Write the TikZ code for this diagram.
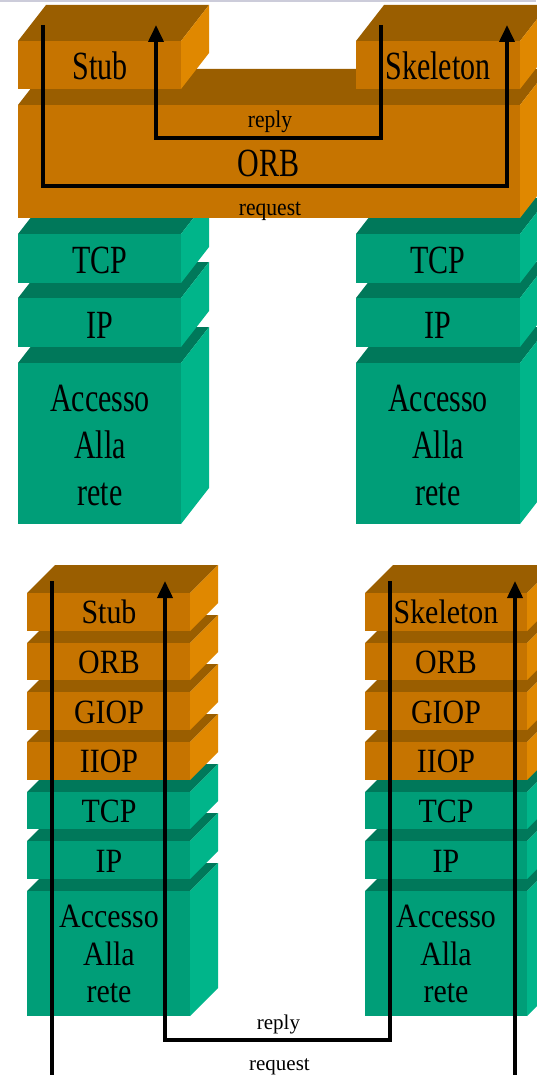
\documentclass[tikz,border=0pt]{standalone}
\usepackage{fontspec}
\setmainfont{Liberation Serif}
\newfontfamily\bigtopf[FakeStretch=0.75]{Liberation Serif}
\newfontfamily\smalltopf[FakeStretch=0.9]{Liberation Serif}
\newfontfamily\bigbotf[FakeStretch=0.88]{Liberation Serif}
\usetikzlibrary{arrows.meta}
\definecolor{ofront}{RGB}{198,116,0}
\definecolor{otop}{RGB}{154,94,0}
\definecolor{oside}{RGB}{224,136,0}
\definecolor{gfront}{RGB}{0,158,120}
\definecolor{gtop}{RGB}{0,120,90}
\definecolor{gside}{RGB}{0,181,138}
\definecolor{topbar}{RGB}{204,204,218}
% #1 x0, #2 y0 (front top), #3 x1, #4 y1 (front bottom), #5 dx, #6 dy, #7 colour prefix
\newcommand\slab[7]{%
  \fill[#7top] (#1,#2) -- (#1+#5,#2-#6) -- (#3+#5,#2-#6) -- (#3,#2) -- cycle;
  \fill[#7side] (#3,#2) -- (#3+#5,#2-#6) -- (#3+#5,#4-#6) -- (#3,#4) -- cycle;
  \fill[#7front] (#1,#2) rectangle (#3,#4);
}
\tikzset{
  bigtop/.style={font=\bigtopf\fontsize{40}{47}\selectfont, inner sep=0pt, anchor=base},
  smalltop/.style={font=\smalltopf\fontsize{24}{28}\selectfont, inner sep=0pt, anchor=base},
  bigbot/.style={font=\bigbotf\fontsize{34}{38}\selectfont, inner sep=0pt, anchor=base},
  smallbot/.style={font=\fontsize{21}{25}\selectfont, inner sep=0pt, anchor=base},
  conn/.style={line width=3.8pt, line join=miter},
  connarr/.style={conn, -{Triangle[width=15pt,length=17pt]}},
}
\begin{document}
\begin{tikzpicture}[x=1pt,y=-1pt]
\useasboundingbox (0,0) rectangle (536,1075);
\fill[white] (0,0) rectangle (536,1075);
\fill[topbar] (0,0) rectangle (536,2.5);

% ---------------- top diagram ----------------
% green stacks
\slab{18}{363}{181}{524}{28}{36}{g}
\slab{18}{298}{181}{347}{28}{36}{g}
\slab{18}{234}{181}{283}{28}{36}{g}
\slab{356}{363}{520}{524}{28}{36}{g}
\slab{356}{298}{520}{347}{28}{36}{g}
\slab{356}{234}{520}{283}{28}{36}{g}
% ORB
\slab{18}{105}{520}{218}{28}{36}{o}
% Stub / Skeleton
\slab{18}{41}{181}{89}{28}{36}{o}
\slab{356}{41}{520}{89}{28}{36}{o}

\node[bigtop] (stubA) at (100,80) {Stub};
\node[bigtop] (skelA) at (438,80) {Skeleton};
\node[bigtop] (orbA) at (268.5,177) {ORB};
\node[smalltop] (replyA) at (270,128) {reply};
\node[smalltop] (requestA) at (270,216) {request};
\node[bigtop] (tcpA1) at (100,273) {TCP};
\node[bigtop] (tcpA2) at (438,273) {TCP};
\node[bigtop] (ipA1) at (100,338) {IP};
\node[bigtop] (ipA2) at (438,338) {IP};
\node[bigtop] (accA1) at (100,411) {Accesso};
\node[bigtop] (allaA1) at (100,458) {Alla};
\node[bigtop] (reteA1) at (100,505) {rete};
\node[bigtop] (accA2) at (438,411) {Accesso};
\node[bigtop] (allaA2) at (438,458) {Alla};
\node[bigtop] (reteA2) at (438,505) {rete};

\coordinate (rqA1) at (43,25);
\coordinate (rqA2) at (507,25);
\coordinate (rqAlow) at (0,186);
\coordinate (rpA1) at (381,25);
\coordinate (rpA2) at (156,25);
\coordinate (rpAlow) at (0,138);
\draw[connarr] (rqA1) -- (rqA1 |- rqAlow) -- (rqA2 |- rqAlow) -- (rqA2);
\draw[connarr] (rpA1) -- (rpA1 |- rpAlow) -- (rpA2 |- rpAlow) -- (rpA2);

% ---------------- bottom diagram ----------------
\foreach \xa/\xb in {27/190, 365/527}{
  \slab{\xa}{891}{\xb}{1016}{28}{28}{g}
  \slab{\xa}{841}{\xb}{879}{28}{28}{g}
  \slab{\xa}{792}{\xb}{829}{28}{28}{g}
  \slab{\xa}{742}{\xb}{780}{28}{28}{o}
  \slab{\xa}{692}{\xb}{730}{28}{28}{o}
  \slab{\xa}{643}{\xb}{680}{28}{28}{o}
  \slab{\xa}{593}{\xb}{631}{28}{28}{o}
}

\node[bigbot] (stubB) at (109,623) {Stub};
\node[bigbot] (skelB) at (446,623) {Skeleton};
\node[bigbot] (orbB1) at (109,673) {ORB};
\node[bigbot] (orbB2) at (446,673) {ORB};
\node[bigbot] (giopB1) at (109,723) {GIOP};
\node[bigbot] (giopB2) at (446,723) {GIOP};
\node[bigbot] (iiopB1) at (109,772) {IIOP};
\node[bigbot] (iiopB2) at (446,772) {IIOP};
\node[bigbot] (tcpB1) at (109,822) {TCP};
\node[bigbot] (tcpB2) at (446,822) {TCP};
\node[bigbot] (ipB1) at (109,872) {IP};
\node[bigbot] (ipB2) at (446,872) {IP};
\node[bigbot] (accB1) at (109,927) {Accesso};
\node[bigbot] (allaB1) at (109,965) {Alla};
\node[bigbot] (reteB1) at (109,1002) {rete};
\node[bigbot] (accB2) at (446,927) {Accesso};
\node[bigbot] (allaB2) at (446,965) {Alla};
\node[bigbot] (reteB2) at (446,1002) {rete};
\node[smallbot] (replyB) at (278.5,1029) {reply};
\node[smallbot] (requestB) at (279.5,1070) {request};

\coordinate (rqB1) at (52,581);
\coordinate (rqB2) at (515,581);
\coordinate (rqBlow) at (0,1095);
\coordinate (rpB1) at (390,581);
\coordinate (rpB2) at (165,581);
\coordinate (rpBlow) at (0,1040);
\draw[connarr] (rqB1) -- (rqB1 |- rqBlow) -- (rqB2 |- rqBlow) -- (rqB2);
\draw[connarr] (rpB1) -- (rpB1 |- rpBlow) -- (rpB2 |- rpBlow) -- (rpB2);
\end{tikzpicture}
\end{document}
